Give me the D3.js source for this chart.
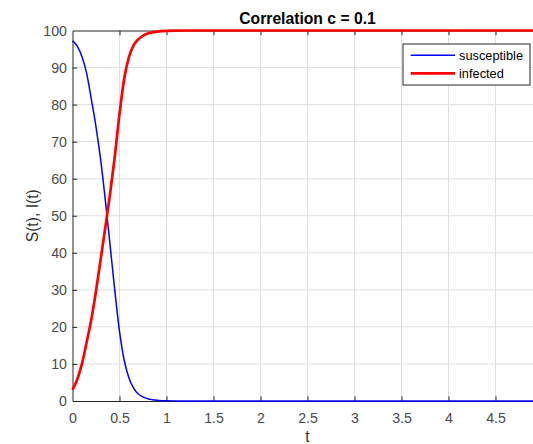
<!DOCTYPE html>
<html lang="en">
<head>
<meta charset="utf-8">
<title>Correlation c = 0.1</title>
<script src="https://cdn.jsdelivr.net/npm/d3@7"></script>
<style>
body { margin: 0; background: #fff; overflow: hidden; }
text { font-family: "Liberation Sans", Arial, Helvetica, sans-serif; }
</style>
</head>
<body>
<script>
// values
var tValues = [0, 0.05, 0.1, 0.15, 0.2, 0.25, 0.3, 0.35, 0.4, 0.45, 0.5, 0.55, 0.6, 0.65, 0.7,
  0.75, 0.8, 0.85, 0.9, 0.95, 1.0, 1.1, 1.2, 1.5, 2, 2.5, 3, 3.5, 4, 4.5, 5];
var susceptible = [97.2, 95.8, 93, 88.5, 81.5, 74, 65, 54, 42, 29.8, 18.8, 11, 6.3, 3.5, 1.9,
  1.1, 0.6, 0.35, 0.2, 0.1, 0.05, 0.02, 0, 0, 0, 0, 0, 0, 0, 0, 0];
var infected = [3, 5.8, 10, 15.8, 22, 29.7, 38.3, 47, 56, 66, 77.5, 87, 92.8, 96, 97.6,
  98.6, 99.2, 99.5, 99.7, 99.85, 99.92, 99.98, 100, 100, 100, 100, 100, 100, 100, 100, 100];
var seriesNames = ["susceptible", "infected"];
var xTicks = [0, 0.5, 1, 1.5, 2, 2.5, 3, 3.5, 4, 4.5];
var yTicks = [0, 10, 20, 30, 40, 50, 60, 70, 80, 90, 100];

var outerWidth = 533, outerHeight = 444;
var plotLeft = 72.5, plotRight = 542.5, plotTop = 30.5, plotBottom = 401;
var axisColor = "#262626", tickLen = 4.7;

var x = d3.scaleLinear().domain([0, 5]).range([plotLeft, plotRight]);
var y = d3.scaleLinear().domain([0, 100]).range([plotBottom, plotTop]);

var svg = d3.select("body").append("svg")
  .attr("width", outerWidth)
  .attr("height", outerHeight);

svg.append("rect").attr("width", outerWidth).attr("height", outerHeight).attr("fill", "#fff");

// grid
svg.append("g").selectAll("line")
  .data(xTicks.slice(1)).enter().append("line")
  .attr("x1", d => x(d)).attr("x2", d => x(d))
  .attr("y1", plotTop).attr("y2", plotBottom)
  .attr("stroke", "#dfdfdf").attr("stroke-width", 1);
svg.append("g").selectAll("line")
  .data(yTicks.slice(1, -1)).enter().append("line")
  .attr("y1", d => y(d)).attr("y2", d => y(d))
  .attr("x1", plotLeft).attr("x2", plotRight)
  .attr("stroke", "#dfdfdf").attr("stroke-width", 1);

// axes (ticks point inwards, like matlab)
var xAxis = svg.append("g").attr("transform", "translate(0," + plotBottom + ")")
  .call(d3.axisBottom(x).tickValues(xTicks).tickSize(-tickLen).tickSizeOuter(0).tickPadding(11.7)
    .tickFormat(d3.format("")));
var xTop = svg.append("g").attr("transform", "translate(0," + plotTop + ")")
  .call(d3.axisTop(x).tickValues(xTicks).tickSize(-tickLen).tickSizeOuter(0).tickFormat(""));
var yAxis = svg.append("g").attr("transform", "translate(" + plotLeft + ",0)")
  .call(d3.axisLeft(y).tickValues(yTicks).tickSize(-tickLen).tickSizeOuter(0).tickPadding(5.5));
var yRight = svg.append("g").attr("transform", "translate(" + plotRight + ",0)")
  .call(d3.axisRight(y).tickValues(yTicks).tickSize(-tickLen).tickSizeOuter(0).tickFormat(""));

[xAxis, xTop, yAxis, yRight].forEach(function(g) {
  g.select(".domain").attr("stroke", axisColor).attr("stroke-width", 1);
  g.selectAll(".tick line").attr("stroke", axisColor);
  g.selectAll(".tick text").attr("fill", "#4a4a4a").style("font-size", "14.2px");
});
xAxis.selectAll(".tick").filter(d => d == 0).select("line").remove();
xTop.selectAll(".tick").filter(d => d == 0).select("line").remove();
yAxis.selectAll(".tick").filter(d => d == 0 || d == 100).select("line").remove();

// curves
var rows = tValues.map((t, i) => ({t: t, s: susceptible[i], inf: infected[i]}));
var lineS = d3.line().x(d => x(d.t)).y(d => y(d.s)).curve(d3.curveMonotoneX);
var lineI = d3.line().x(d => x(d.t)).y(d => y(d.inf)).curve(d3.curveMonotoneX);

svg.append("path").datum(rows).attr("d", lineS)
  .attr("fill", "none").attr("stroke", "#0000ff").attr("stroke-width", 1.5);
svg.append("path").datum(rows).attr("d", lineI)
  .attr("fill", "none").attr("stroke", "#ff0000").attr("stroke-width", 2.7);

// title and labels
svg.append("text").attr("x", (plotLeft + plotRight) / 2).attr("y", 24)
  .attr("text-anchor", "middle").style("font-size", "15.7px").style("font-weight", "bold")
  .attr("fill", "#000").text("Correlation c = 0.1");
svg.append("text").attr("x", (plotLeft + plotRight) / 2).attr("y", 442)
  .attr("text-anchor", "middle").style("font-size", "15.7px").attr("fill", "#333").text("t");
svg.append("text").attr("transform", "translate(38," + (plotTop + plotBottom) / 2 + ") rotate(-90)")
  .attr("text-anchor", "middle").style("font-size", "15.7px").attr("fill", "#333").text("S(t), I(t)");

// legend
var legend = svg.append("g");
legend.append("rect").attr("x", 403).attr("y", 44).attr("width", 127).attr("height", 41)
  .attr("fill", "#fff").attr("stroke", axisColor).attr("stroke-width", 1);
var legColors = ["#0000ff", "#ff0000"], legWidths = [1.5, 2.7];
for (var i = 0; i < 2; i++) {
  var ly = 55.3 + i * 18;
  legend.append("line").attr("x1", 410.7).attr("x2", 455).attr("y1", ly).attr("y2", ly)
    .attr("stroke", legColors[i]).attr("stroke-width", legWidths[i]);
  legend.append("text").attr("x", 459).attr("y", ly + 4.5)
    .style("font-size", "12.8px").attr("fill", "#000").text(seriesNames[i]);
}
</script>
</body>
</html>
